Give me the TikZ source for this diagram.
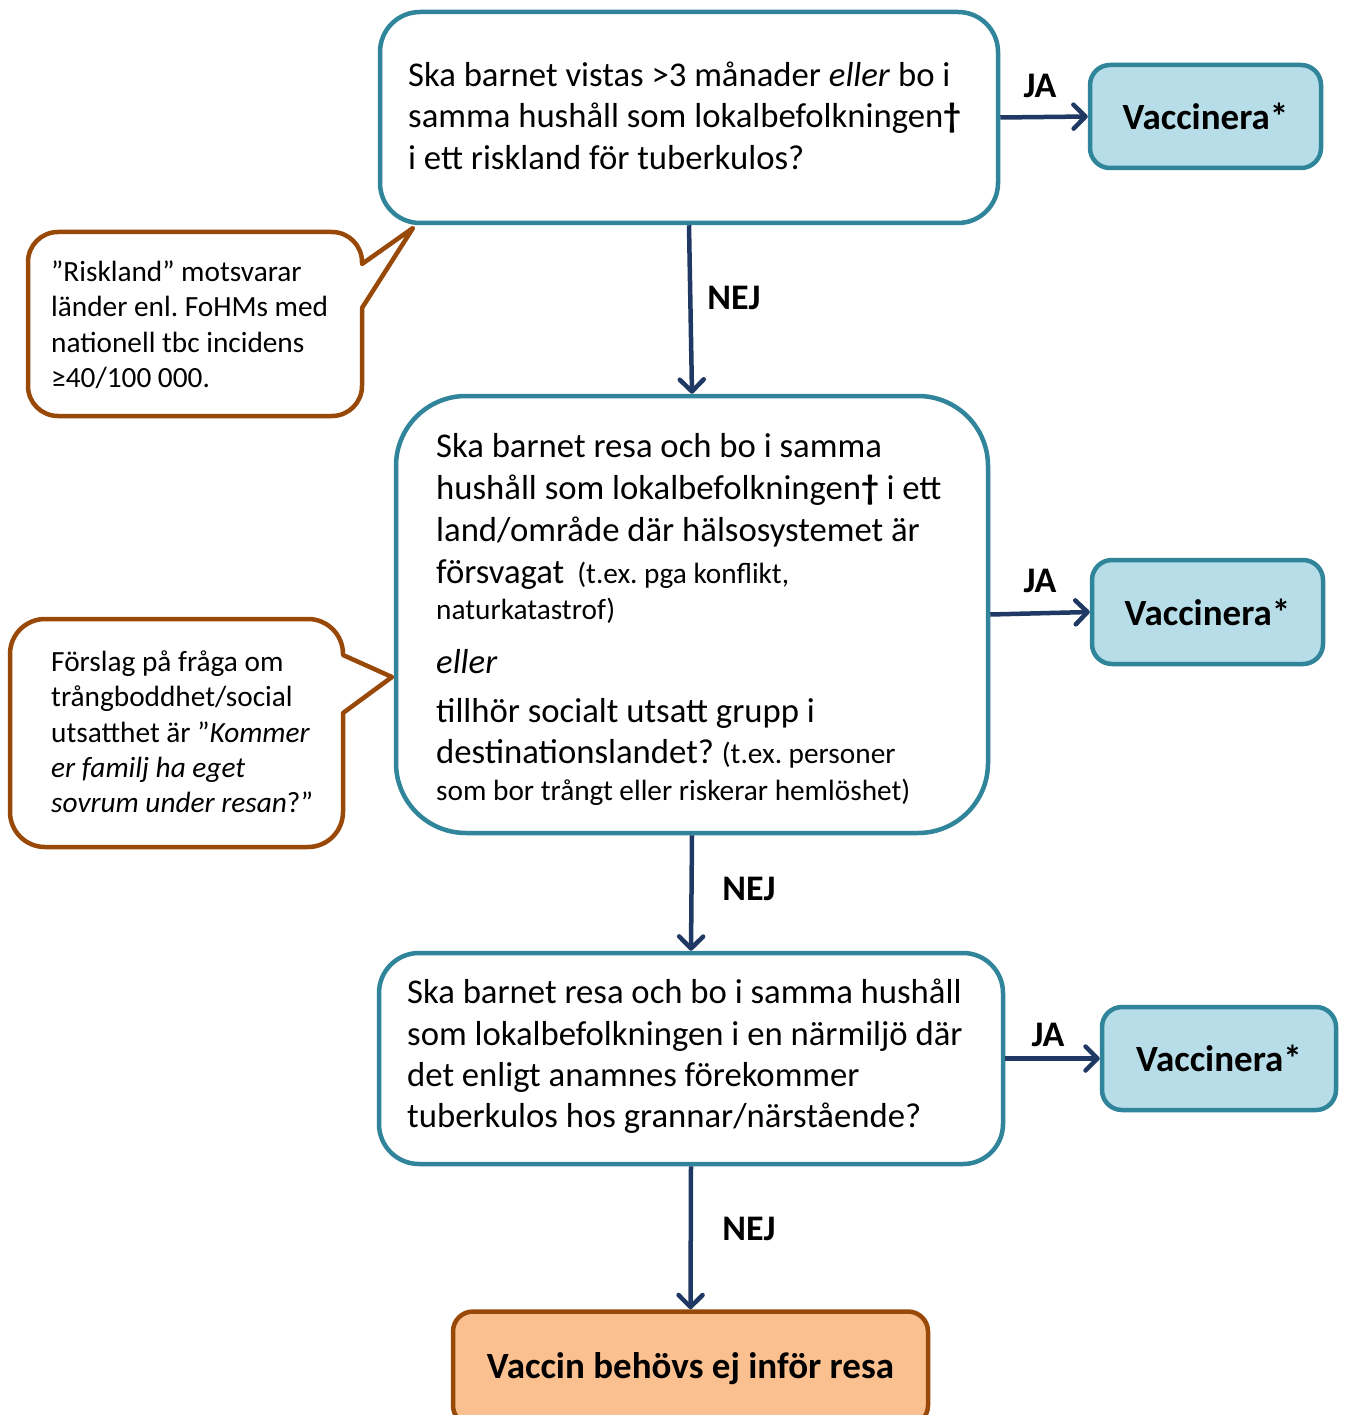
\documentclass[tikz,border=0pt]{standalone}
\usepackage{fontspec}
\setmainfont{Carlito}
\usetikzlibrary{arrows.meta}
\definecolor{tealb}{RGB}{49,133,155}
\definecolor{lightb}{RGB}{183,222,232}
\definecolor{navy}{RGB}{31,56,100}
\definecolor{brownb}{RGB}{152,72,7}
\definecolor{orangef}{RGB}{250,192,144}
\tikzset{
  qbox/.style={rectangle, draw=tealb, line width=4.5pt, fill=white, inner sep=0pt},
  vbox/.style={rectangle, draw=tealb, line width=4.5pt, fill=lightb, rounded corners=20pt, inner sep=0pt,
    font=\fontsize{37}{44}\selectfont\bfseries},
  txt/.style={anchor=base west, inner sep=0pt, font=\fontsize{34.7}{42}\selectfont},
  ctxt/.style={anchor=base west, inner sep=0pt, font=\fontsize{29.3}{35}\selectfont},
  lbl/.style={inner sep=0pt, font=\fontsize{36}{42}\selectfont\bfseries},
  callout/.style={draw=brownb, line width=4.5pt, fill=white, line join=round},
  arr/.style={draw=navy, line width=4.5pt, -{Straight Barb[length=12pt,width=24pt,round]}},
}
\newcommand{\smtxt}{\fontsize{29.3}{35}\selectfont}
\begin{document}
\frenchspacing
\begin{tikzpicture}[x=1pt,y=-1pt]
\useasboundingbox[fill=white] (0,0) rectangle (1347,1415);

% question boxes
\node[qbox, rounded corners=40pt, minimum width=618pt, minimum height=211pt] (box1) at (689,117.5) {};
\node[qbox, rounded corners=70pt, minimum width=592pt, minimum height=437pt] (box2) at (692,614.5) {};
\node[qbox, rounded corners=40pt, minimum width=624pt, minimum height=211pt] (box3) at (691,1058.5) {};

% result boxes
\node[vbox, minimum width=231pt, minimum height=103pt] (v1) at (1205.5,116.5) {Vaccinera*};
\node[vbox, minimum width=231pt, minimum height=104pt] (v2) at (1207.5,612) {Vaccinera*};
\node[vbox, minimum width=234pt, minimum height=103pt] (v3) at (1219,1058.5) {Vaccinera*};
\node[rectangle, draw=brownb, line width=4.5pt, fill=orangef, rounded corners=20pt, inner sep=0pt,
      minimum width=475pt, minimum height=114pt, font=\fontsize{37}{44}\selectfont\bfseries]
      (fin) at (690.5,1368.5) {Vaccin behövs ej inför resa};

% text box 1
\node[txt] (t1a) at (408,87) {Ska barnet vistas >3 månader \textit{eller} bo i};
\node[txt] (t1b) at (408,128) {samma hushåll som lokalbefolkningen\textbf{†}};
\node[txt] (t1c) at (408,170) {i ett riskland för tuberkulos?};

% text box 2
\node[txt] (t2a) at (436,457) {Ska barnet resa och bo i samma};
\node[txt] (t2b) at (436,499) {hushåll som lokalbefolkningen\textbf{†} i ett};
\node[txt] (t2c) at (436,541) {land/område där hälsosystemet är};
\node[txt] (t2d) at (436,583) {försvagat\hspace{13pt}{\smtxt(t.ex. pga konflikt,}};
\node[txt, font=\smtxt] (t2e) at (436,619) {naturkatastrof)};
\node[txt] (t2f) at (436,673) {\textit{eller}};
\node[txt] (t2g) at (436,722) {tillhör socialt utsatt grupp i};
\node[txt] (t2h) at (436,763) {destinationslandet? {\smtxt(t.ex. personer}};
\node[txt, font=\smtxt] (t2i) at (436,800) {som bor trångt eller riskerar hemlöshet)};

% text box 3
\node[txt] (t3a) at (407,1003) {Ska barnet resa och bo i samma hushåll};
\node[txt] (t3b) at (407,1045) {som lokalbefolkningen i en närmiljö där};
\node[txt] (t3c) at (407,1086) {det enligt anamnes förekommer};
\node[txt] (t3d) at (407,1127) {tuberkulos hos grannar/närstående?};

% callout 1
\draw[callout] (28,300) [rounded corners=30pt] -- (28,232) -- (362,232) [sharp corners] -- (362,264)
  -- (413,228) -- (362,308) [rounded corners=30pt] -- (362,416) -- (28,416) -- (28,300) [sharp corners] -- cycle;
\node[ctxt] (c1a) at (51,281) {”Riskland” motsvarar};
\node[ctxt] (c1b) at (51,316) {länder enl. FoHMs med};
\node[ctxt] (c1c) at (51,352) {nationell tbc incidens};
\node[ctxt] (c1d) at (51,387) {≥40/100 000.};

% callout 2
\draw[callout] (10,730) [rounded corners=35pt] -- (10,619) -- (343,619) [sharp corners] -- (343,655)
  -- (392,677) -- (343,713) [rounded corners=35pt] -- (343,847) -- (10,847) -- (10,730) [sharp corners] -- cycle;
\node[ctxt] (c2a) at (51,671) {Förslag på fråga om};
\node[ctxt] (c2b) at (51,706) {trångboddhet/social};
\node[ctxt] (c2c) at (51,742) {utsatthet är ”\textit{Kommer}};
\node[ctxt] (c2d) at (51,777) {\textit{er familj ha eget}};
\node[ctxt] (c2e) at (51,812) {\textit{sovrum under resan}?”};

% connectors
\draw[arr] (box1.east) -- (v1.west);
\draw[arr] (box2.east) -- (v2.west);
\draw[arr] (box3.east) -- (v3.west);
\draw[arr] (box1.south) -- (box2.north);
\draw[arr] (box2.south) -- (box3.north);
\draw[arr] (box3.south) -- (fin.north);

% labels
\node[lbl] (ja1) at (1040,86) {JA};
\node[lbl] (ja2) at (1040,581) {JA};
\node[lbl] (ja3) at (1048,1035) {JA};
\node[lbl] (nej1) at (734,298) {NEJ};
\node[lbl] (nej2) at (749,889) {NEJ};
\node[lbl] (nej3) at (749,1229) {NEJ};
\end{tikzpicture}
\end{document}
